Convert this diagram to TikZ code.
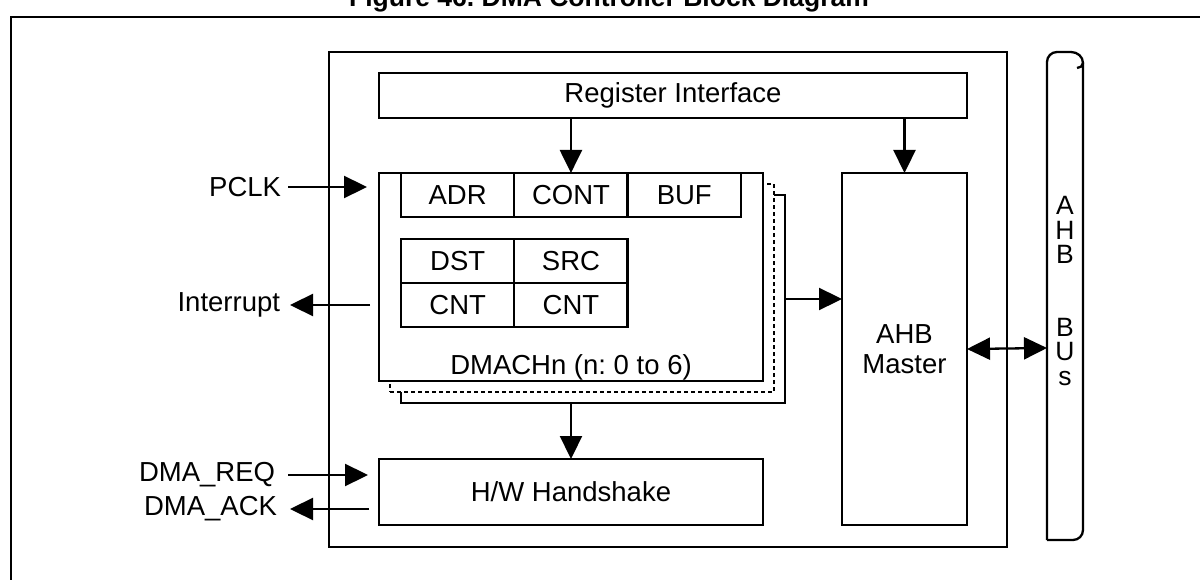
\documentclass[tikz,border=0pt]{standalone}
\usepackage{fontspec}
\setmainfont{Liberation Sans}
\usetikzlibrary{positioning, arrows.meta}
\frenchspacing

\begin{document}
\begin{tikzpicture}[x=1pt, y=-1pt, line width=2.3pt,
    blk/.style={draw, fill=white, inner sep=0pt, outer sep=0pt, font=\fontsize{27.5}{30}\selectfont},
    cell/.style={blk, minimum width=113.3pt, minimum height=44pt},
    lbl/.style={inner sep=0pt, outer sep=0pt, font=\fontsize{27.5}{30}\selectfont},
    sig/.style={-{Triangle[length=23pt,width=22pt]}}]

    \useasboundingbox (0,0) rectangle (1200,580);

    % title and frame
    \node[anchor=base, font=\bfseries\fontsize{26.5}{30}\selectfont] (title) at (609,7) {Figure 46. DMA Controller Block Diagram};
    \draw (11,17) rectangle (1240,620);

    % controller
    \node[blk, minimum width=678pt, minimum height=495pt] (ctrl) at (668,299.5) {};
    \node[blk, minimum width=588pt, minimum height=45pt] (regif) at (673,95.5) {Register Interface};

    % channels
    \node[blk, minimum width=384pt, minimum height=208pt] (chan3) at (593,299) {};
    \node[blk, minimum width=384pt, minimum height=208pt, dash pattern=on 4pt off 3pt] (chan2) at (582,288) {};
    \node[blk, minimum width=384pt, minimum height=208pt] (chan) at (571,277) {};

    \node[cell, anchor=north west] (adr) at (401,173) {ADR};
    \node[cell, right=0pt of adr] (cont) {CONT};
    \node[cell, right=0pt of cont] (buf) {BUF};

    \node[cell, anchor=north west] (dst) at (401,239) {DST};
    \node[cell, right=0pt of dst] (src) {SRC};
    \node[cell, below=0pt of dst] (dcnt) {CNT};
    \node[cell, below=0pt of src] (scnt) {CNT};

    \node[lbl] (chname) at (571,367) {DMACHn (n: 0 to 6)};

    \node[blk, minimum width=125pt, minimum height=352pt, align=center] (ahb) at (904.5,349) {AHB\\Master};
    \node[blk, minimum width=384pt, minimum height=66pt] (hw) at (571,492) {H/W Handshake};

    % bus
    \draw (1047,540) -- (1047,62) to[out=-90,in=180] (1047,62) to[out=90,in=180] (1057,52) -- (1071,52)
        to[out=0,in=90] (1083,63) to[out=-90,in=0] (1077,68);
    \draw (1083,63) -- (1083,530) to[out=-90,in=0] (1073,540) -- (1047,540);
    \coordinate (busl) at (1047,348);
    \node[lbl, align=center, font=\fontsize{26.5}{24.5}\selectfont] (bustxt) at (1065,291) {A\\H\\B\\[48pt]B\\U\\s};

    % signals
    \node[lbl, anchor=east] (pclk) at (281,187) {PCLK};
    \node[lbl, anchor=east] (intr) at (280,305) {Interrupt};
    \node[lbl, anchor=east] (req) at (275,475) {DMA\_REQ};
    \node[lbl, anchor=east] (ack) at (277,509) {DMA\_ACK};

    \path[sig]
    (pclk.east) edge[shorten <=7pt] ([xshift=-12pt]pclk.east -| chan.west)
    ([xshift=-9pt]intr.east -| chan.west) edge[shorten >=10pt] (intr.east)
    (req.east) edge[shorten <=13pt] ([xshift=-11pt]req.east -| hw.west)
    ([xshift=-10pt]ack.east -| hw.west) edge[shorten >=13pt] (ack.east)
    (regif.south -| cont) edge (cont.north)
    (regif.south -| ahb) edge (ahb.north)
    (chan3.east) edge (chan3.east -| ahb.west)
    (chan3.south -| hw) edge (hw.north);

    \path[{Triangle[length=23pt,width=22pt]}-{Triangle[length=23pt,width=22pt]}]
    (ahb.east) edge (busl);

\end{tikzpicture}
\end{document}
